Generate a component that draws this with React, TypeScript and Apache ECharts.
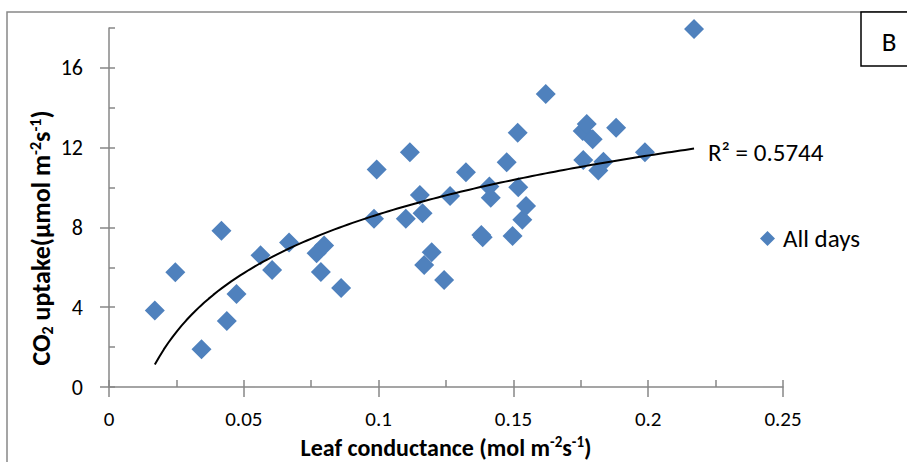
import React, { useEffect, useRef } from "react";
import * as echarts from "echarts";

// Leaf conductance (mol m-2 s-1)
const conductance = [
  0.017, 0.0246, 0.0343, 0.0417, 0.0437, 0.0473, 0.0562, 0.0605, 0.0668, 0.077,
  0.0798, 0.0786, 0.0861, 0.0983, 0.0993, 0.1101, 0.1116, 0.1153, 0.1163, 0.1169,
  0.1197, 0.1243, 0.1265, 0.1324, 0.1381, 0.1386, 0.1411, 0.1416, 0.1475, 0.1497,
  0.1516, 0.1518, 0.1533, 0.1547, 0.162, 0.1759, 0.1757, 0.1772, 0.1794, 0.1815,
  0.1834, 0.1881, 0.1988, 0.217,
];
// CO2 uptake (umol m-2 s-1)
const uptake = [
  3.83, 5.75, 1.89, 7.84, 3.31, 4.66, 6.6, 5.87, 7.24, 6.71,
  7.09, 5.77, 4.96, 8.44, 10.9, 8.43, 11.77, 9.63, 8.71, 6.12,
  6.76, 5.37, 9.58, 10.77, 7.62, 7.51, 10.05, 9.49, 11.27, 7.57,
  12.75, 10.02, 8.38, 9.08, 14.69, 11.38, 12.84, 13.19, 12.42, 10.85,
  11.3, 13.0, 11.77, 17.95,
];
const xTickLabels = [0, 0.05, 0.1, 0.15, 0.2, 0.25];
const yTickLabels = [0, 4, 8, 12, 16];
const seriesName = "All days";
const r2Label = "R² = 0.5744";
const panelLabel = "B";
const xTitle = "Leaf conductance (mol m{sup|-2}s{sup|-1})";
const yTitle = "CO{sub|2} uptake(μmol m{sup|-2}s{sup|-1})";

const FONT = "Carlito, Lato, 'Noto Sans', sans-serif";
const BLUE = "#4F81BD";
const GRAY = "#878787";

function logFit(xs: number[], ys: number[]) {
  const n = xs.length;
  let sx = 0, sy = 0, sxx = 0, sxy = 0;
  for (let i = 0; i < n; i++) {
    const lx = Math.log(xs[i]);
    sx += lx; sy += ys[i]; sxx += lx * lx; sxy += lx * ys[i];
  }
  const a = (n * sxy - sx * sy) / (n * sxx - sx * sx);
  const b = (sy - a * sx) / n;
  return { a, b };
}

const isIn = (v: number, arr: number[]) => arr.some((t) => Math.abs(t - v) < 1e-9);

export default function App() {
  const ref = useRef<HTMLDivElement>(null);
  useEffect(() => {
    if (!ref.current) return;
    const chart = echarts.init(ref.current, undefined, { renderer: "svg" });
    const points = conductance.map((x, i) => [x, uptake[i]]);
    const { a, b } = logFit(conductance, uptake);
    const xmin = Math.min(...conductance);
    const xmax = Math.max(...conductance);
    const trend: number[][] = [];
    const steps = 120;
    for (let i = 0; i <= steps; i++) {
      const x = xmin + ((xmax - xmin) * i) / steps;
      trend.push([x, a * Math.log(x) + b]);
    }
    const supStyle = { fontSize: 15, lineHeight: 14, verticalAlign: "top", fontWeight: "bold", fontFamily: FONT, fill: "#000", color: "#000" };
    const subStyle = { fontSize: 16, lineHeight: 16, verticalAlign: "bottom", fontWeight: "bold", fontFamily: FONT, fill: "#000", color: "#000" };
    const tickLine = { color: GRAY, width: 1.5 };
    const option: any = {
      animation: false,
      grid: { left: 109, top: 28, right: 124, bottom: 75, containLabel: false, outerBoundsMode: "none" },
      legend: {
        data: [{ name: seriesName, icon: "diamond" }],
        left: 760,
        top: 226,
        padding: 0,
        itemWidth: 15,
        itemHeight: 15,
        itemGap: 5,
        textStyle: { fontSize: 25, fontFamily: FONT, color: "#000", padding: [0, 0, 0, 3] },
      },
      xAxis: [
        {
          type: "value", min: 0, max: 0.25, interval: 0.025,
          axisLine: { show: true, onZero: false, lineStyle: tickLine },
          axisTick: { show: true, inside: true, length: 7, lineStyle: tickLine },
          axisLabel: {
            customValues: xTickLabels, margin: 21, fontSize: 21, lineHeight: 21, fontFamily: FONT, color: "#000",
            formatter: (v: number) => (isIn(v, xTickLabels) ? String(Math.round(v * 1000) / 1000) : ""),
          },
          splitLine: { show: false },
        },
        {
          type: "value", min: 0, max: 0.25, interval: 0.05, position: "bottom", offset: 0,
          axisLine: { show: false, onZero: false },
          axisTick: { show: true, inside: false, length: 10, customValues: xTickLabels, lineStyle: tickLine },
          axisLabel: { show: false },
          splitLine: { show: false },
        },
      ],
      yAxis: [
        {
          type: "value", min: 0, max: 18, interval: 2,
          axisLine: { show: true, onZero: false, lineStyle: tickLine },
          axisTick: { show: true, inside: true, length: 6, lineStyle: tickLine },
          axisLabel: {
            customValues: yTickLabels, margin: 26, fontSize: 22, fontFamily: FONT, color: "#000",
            formatter: (v: number) => (isIn(v, yTickLabels) ? String(v) : ""),
          },
          splitLine: { show: false },
        },
        {
          type: "value", min: 0, max: 18, interval: 4, position: "left", offset: 0,
          axisLine: { show: false, onZero: false },
          axisTick: { show: true, inside: false, length: 9, customValues: yTickLabels, lineStyle: tickLine },
          axisLabel: { show: false },
          splitLine: { show: false },
        },
      ],
      series: [
        {
          name: seriesName, type: "scatter", xAxisIndex: 0, yAxisIndex: 0,
          symbol: "diamond", symbolSize: 20, data: points,
          itemStyle: { color: BLUE, opacity: 1 },
          z: 3,
        },
        {
          name: "trend", type: "line", xAxisIndex: 0, yAxisIndex: 0, data: trend,
          showSymbol: false, symbol: "none", smooth: false, silent: true,
          lineStyle: { color: "#000", width: 2 }, z: 4,
        },
      ],
      graphic: [
        {
          type: "rect", z: -10, silent: true,
          shape: { x: 7, y: 12, width: 1000, height: 1000 },
          style: { fill: "none", stroke: "#888", lineWidth: 1.5 },
        },
        {
          type: "rect", z: 10, silent: true,
          shape: { x: 861, y: 12, width: 80, height: 54 },
          style: { fill: "#fff", stroke: "#000", lineWidth: 1.5 },
        },
        {
          type: "text", z: 11, x: 889, y: 41, silent: true,
          style: { text: panelLabel, fontSize: 27, fontFamily: FONT, fill: "#000", align: "center", verticalAlign: "middle" },
        },
        {
          type: "text", z: 11, x: 708, y: 152, silent: true,
          style: { text: r2Label, fontSize: 25, fontFamily: FONT, fill: "#000", align: "left", verticalAlign: "middle" },
        },
        {
          type: "text", z: 11, x: 446, y: 447, silent: true,
          style: {
            text: xTitle, fontSize: 24, fontWeight: "bold", fontFamily: FONT, fill: "#000",
            align: "center", verticalAlign: "middle", lineHeight: 26,
            rich: { sup: supStyle },
          },
        },
        {
          type: "text", z: 11, x: 41, y: 238, rotation: Math.PI / 2, silent: true,
          style: {
            text: yTitle, fontSize: 26, fontWeight: "bold", fontFamily: FONT, fill: "#000",
            align: "center", verticalAlign: "middle", lineHeight: 28,
            rich: { sup: { ...supStyle, fontSize: 16, lineHeight: 16 }, sub: subStyle },
          },
        },
      ],
    };
    chart.setOption(option);
    return () => chart.dispose();
  }, []);
  return (
    <div
      ref={ref}
      style={{ position: "fixed", left: 0, top: 0, width: 907, height: 462, background: "#fff" }}
    />
  );
}
